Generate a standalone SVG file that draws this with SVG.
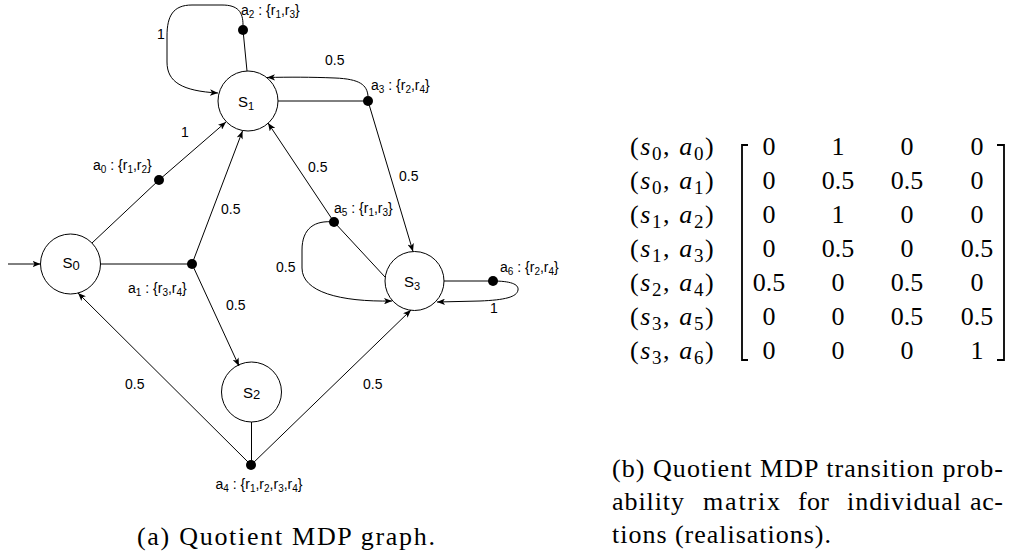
<svg xmlns="http://www.w3.org/2000/svg" width="1015" height="552" viewBox="0 0 1015 552">
<defs>
<style>
.state circle{fill:#fff;stroke:#000;stroke-width:1}
.dot{fill:#000}
.edge{fill:none;stroke:#000;stroke-width:1}
.arr{marker-end:url(#ah)}
.lbl{font-family:"Liberation Sans",Arial,sans-serif;font-size:14px;fill:#000}
.st{font-family:"Liberation Sans",Arial,sans-serif;font-size:15px;fill:#000;text-anchor:middle}
.sub{font-size:10px}
.tex{font-family:"Liberation Serif","Times New Roman",serif;font-size:26px;fill:#000}
.num{text-anchor:middle}
.rl{letter-spacing:1.6px}
.it{font-style:italic}
.ts{font-size:19px}
.br{fill:none;stroke:#000;stroke-width:1.8}
</style>
<marker id="ah" viewBox="0 0 10 8" refX="10" refY="4" markerWidth="8" markerHeight="6.4" markerUnits="userSpaceOnUse" orient="auto">
<path d="M0,0 L10,4 L0,8 L2.5,4 Z" fill="#000"/>
</marker>
</defs>
<rect width="1015" height="552" fill="#fff"/>

<g id="s0" class="state"><circle cx="70.5" cy="264" r="30"/><text class="st" x="71" y="268">S<tspan font-size="13px" dy="2">0</tspan></text></g>
<g id="s1" class="state"><circle cx="248" cy="101" r="30"/><text class="st" x="246" y="106.5">S<tspan font-size="11px" dy="3.5">1</tspan></text></g>
<g id="s2" class="state"><circle cx="251.5" cy="392" r="30"/><text class="st" x="251.5" y="398">S<tspan font-size="13px" dy="1">2</tspan></text></g>
<g id="s3" class="state"><circle cx="414.5" cy="281" r="29.5"/><text class="st" x="412" y="287">S<tspan font-size="11px" dy="2.5">3</tspan></text></g>

<g id="connectors">
<path class="edge arr" d="M8,264 L40.5,264"/>
<path class="edge" d="M92,243 L159,180"/>
<path class="edge arr" d="M159,180 L226,122"/>
<path class="edge" d="M100.5,264 L192,264"/>
<path class="edge arr" d="M192,264 L242.5,131"/>
<path class="edge arr" d="M192,264 L239,366"/>
<path class="edge" d="M247,71 L243,30"/>
<path class="edge arr" d="M243,25 C243,12 238,5 222,5 L192,5 C173,5 167,16 167,36 L167,62 C167,82 182,91 218,93"/>
<path class="edge" d="M278,101 L368,101"/>
<path class="edge arr" d="M368,96 C367,85 360,79 335,78 C310,77 290,77 267,77.5"/>
<path class="edge arr" d="M368,101 L413,251.5"/>
<path class="edge" d="M385,277 L334,222"/>
<path class="edge arr" d="M334,222 L268,123"/>
<path class="edge arr" d="M334,222 C315,220 302,228 302,250 L302,268 C302,292 340,302 392,301"/>
<path class="edge" d="M444,281 L493,281"/>
<path class="edge arr" d="M493,281 C510,281 519,284 518,290 C517,297 505,300 480,301 L437,302"/>
<path class="edge" d="M251.5,422 L251.5,465"/>
<path class="edge arr" d="M251,465 L78,293"/>
<path class="edge arr" d="M251,465 L411,310"/>
<g class="lbl">
<text x="157" y="39">1</text>
<text x="325" y="65">0.5</text>
<text x="181" y="137">1</text>
<text x="308" y="172">0.5</text>
<text x="399" y="181">0.5</text>
<text x="221" y="214">0.5</text>
<text x="276" y="272">0.5</text>
<text x="226" y="310">0.5</text>
<text x="490" y="313">1</text>
<text x="125" y="389">0.5</text>
<text x="363" y="389">0.5</text>
</g>
</g>

<g id="a0"><circle class="dot" cx="159" cy="180" r="5"/><text class="lbl" x="93" y="170">a<tspan class="sub" dy="3">0</tspan><tspan dy="-3"> : {r</tspan><tspan class="sub" dy="3">1</tspan><tspan dy="-3">,r</tspan><tspan class="sub" dy="3">2</tspan><tspan dy="-3">}</tspan></text></g>
<g id="a1"><circle class="dot" cx="192" cy="264" r="5"/><text class="lbl" x="128" y="293">a<tspan class="sub" dy="3">1</tspan><tspan dy="-3"> : {r</tspan><tspan class="sub" dy="3">3</tspan><tspan dy="-3">,r</tspan><tspan class="sub" dy="3">4</tspan><tspan dy="-3">}</tspan></text></g>
<g id="a2"><circle class="dot" cx="243" cy="30" r="5"/><text class="lbl" x="241" y="15">a<tspan class="sub" dy="3">2</tspan><tspan dy="-3"> : {r</tspan><tspan class="sub" dy="3">1</tspan><tspan dy="-3">,r</tspan><tspan class="sub" dy="3">3</tspan><tspan dy="-3">}</tspan></text></g>
<g id="a3"><circle class="dot" cx="368" cy="101" r="5"/><text class="lbl" x="371" y="90">a<tspan class="sub" dy="3">3</tspan><tspan dy="-3"> : {r</tspan><tspan class="sub" dy="3">2</tspan><tspan dy="-3">,r</tspan><tspan class="sub" dy="3">4</tspan><tspan dy="-3">}</tspan></text></g>
<g id="a4"><circle class="dot" cx="251" cy="465" r="5"/><text class="lbl" x="259" y="489" text-anchor="middle">a<tspan class="sub" dy="3">4</tspan><tspan dy="-3"> : {r</tspan><tspan class="sub" dy="3">1</tspan><tspan dy="-3">,r</tspan><tspan class="sub" dy="3">2</tspan><tspan dy="-3">,r</tspan><tspan class="sub" dy="3">3</tspan><tspan dy="-3">,r</tspan><tspan class="sub" dy="3">4</tspan><tspan dy="-3">}</tspan></text></g>
<g id="a5"><circle class="dot" cx="334" cy="222" r="5"/><text class="lbl" x="334" y="213">a<tspan class="sub" dy="3">5</tspan><tspan dy="-3"> : {r</tspan><tspan class="sub" dy="3">1</tspan><tspan dy="-3">,r</tspan><tspan class="sub" dy="3">3</tspan><tspan dy="-3">}</tspan></text></g>
<g id="a6"><circle class="dot" cx="493" cy="281" r="5"/><text class="lbl" x="500" y="272">a<tspan class="sub" dy="3">6</tspan><tspan dy="-3"> : {r</tspan><tspan class="sub" dy="3">2</tspan><tspan dy="-3">,r</tspan><tspan class="sub" dy="3">4</tspan><tspan dy="-3">}</tspan></text></g>

<text class="tex" x="137" y="545" textLength="298" lengthAdjust="spacing">(a) Quotient MDP graph.</text>

<g id="matrix">
<g class="tex rl">
<text x="630" y="155">(<tspan class="it">s</tspan><tspan class="ts" dy="5">0</tspan><tspan dy="-5">, </tspan><tspan class="it">a</tspan><tspan class="ts" dy="5">0</tspan><tspan dy="-5">)</tspan></text>
<text x="630" y="189">(<tspan class="it">s</tspan><tspan class="ts" dy="5">0</tspan><tspan dy="-5">, </tspan><tspan class="it">a</tspan><tspan class="ts" dy="5">1</tspan><tspan dy="-5">)</tspan></text>
<text x="630" y="223">(<tspan class="it">s</tspan><tspan class="ts" dy="5">1</tspan><tspan dy="-5">, </tspan><tspan class="it">a</tspan><tspan class="ts" dy="5">2</tspan><tspan dy="-5">)</tspan></text>
<text x="630" y="257">(<tspan class="it">s</tspan><tspan class="ts" dy="5">1</tspan><tspan dy="-5">, </tspan><tspan class="it">a</tspan><tspan class="ts" dy="5">3</tspan><tspan dy="-5">)</tspan></text>
<text x="630" y="291">(<tspan class="it">s</tspan><tspan class="ts" dy="5">2</tspan><tspan dy="-5">, </tspan><tspan class="it">a</tspan><tspan class="ts" dy="5">4</tspan><tspan dy="-5">)</tspan></text>
<text x="630" y="325">(<tspan class="it">s</tspan><tspan class="ts" dy="5">3</tspan><tspan dy="-5">, </tspan><tspan class="it">a</tspan><tspan class="ts" dy="5">5</tspan><tspan dy="-5">)</tspan></text>
<text x="630" y="359">(<tspan class="it">s</tspan><tspan class="ts" dy="5">3</tspan><tspan dy="-5">, </tspan><tspan class="it">a</tspan><tspan class="ts" dy="5">6</tspan><tspan dy="-5">)</tspan></text>
</g>
<path class="br" d="M748,145 L742,145 L742,360 L748,360"/>
<path class="br" d="M997,145 L1004,145 L1004,360 L997,360"/>
<g class="tex num">
<text x="769" y="155">0</text><text x="838" y="155">1</text><text x="907" y="155">0</text><text x="977" y="155">0</text>
<text x="769" y="189">0</text><text x="838" y="189">0.5</text><text x="907" y="189">0.5</text><text x="977" y="189">0</text>
<text x="769" y="223">0</text><text x="838" y="223">1</text><text x="907" y="223">0</text><text x="977" y="223">0</text>
<text x="769" y="257">0</text><text x="838" y="257">0.5</text><text x="907" y="257">0</text><text x="977" y="257">0.5</text>
<text x="769" y="291">0.5</text><text x="838" y="291">0</text><text x="907" y="291">0.5</text><text x="977" y="291">0</text>
<text x="769" y="325">0</text><text x="838" y="325">0</text><text x="907" y="325">0.5</text><text x="977" y="325">0.5</text>
<text x="769" y="359">0</text><text x="838" y="359">0</text><text x="907" y="359">0</text><text x="977" y="359">1</text>
</g>
</g>

<g class="tex">
<text x="612" y="477" textLength="391" lengthAdjust="spacing">(b) Quotient MDP transition prob-</text>
<text x="612" y="510" textLength="72" lengthAdjust="spacing">ability</text>
<text x="703" y="510" textLength="77" lengthAdjust="spacing">matrix</text>
<text x="798" y="510" textLength="31" lengthAdjust="spacing">for</text>
<text x="847" y="510" textLength="114" lengthAdjust="spacing">individual</text>
<text x="970" y="510" textLength="33" lengthAdjust="spacing">ac-</text>
<text x="612" y="543" textLength="219" lengthAdjust="spacing">tions (realisations).</text>
</g>
</svg>
